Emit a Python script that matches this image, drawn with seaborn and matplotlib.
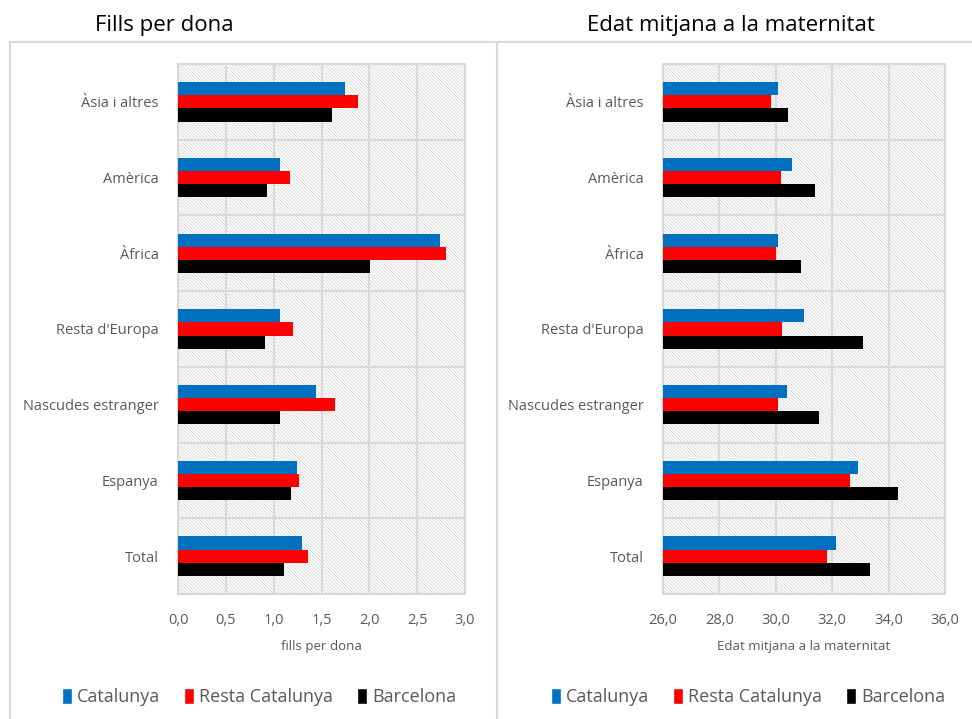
import pandas as pd
import matplotlib as mpl
import matplotlib.pyplot as plt
import seaborn as sns
from matplotlib.patches import Rectangle, Patch
from matplotlib.ticker import FuncFormatter, MultipleLocator

# Data
categories = ['Àsia i altres', 'Amèrica', 'Àfrica', "Resta d'Europa",
              'Nascudes estranger', 'Espanya', 'Total']
series = ['Catalunya', 'Resta Catalunya', 'Barcelona']
colors = ['#0070C0', '#FF0000', '#000000']

fills_catalunya = [1.75, 1.07, 2.74, 1.07, 1.44, 1.24, 1.30]
fills_resta = [1.88, 1.17, 2.80, 1.20, 1.64, 1.26, 1.36]
fills_barcelona = [1.61, 0.93, 2.01, 0.91, 1.07, 1.18, 1.11]

edat_catalunya = [30.09, 30.57, 30.07, 31.01, 30.40, 32.91, 32.13]
edat_resta = [29.83, 30.20, 30.00, 30.23, 30.07, 32.62, 31.81]
edat_barcelona = [30.43, 31.38, 30.88, 33.08, 31.52, 34.32, 33.35]


def long_df(a, b, c):
    rows = []
    for name, vals in zip(series, [a, b, c]):
        for cat, v in zip(categories, vals):
            rows.append({'cat': cat, 'serie': name, 'val': v})
    return pd.DataFrame(rows)


df_fills = long_df(fills_catalunya, fills_resta, fills_barcelona)
df_edat = long_df(edat_catalunya, edat_resta, edat_barcelona)

sns.set_style('white')
plt.rcParams['font.family'] = ['Open Sans', 'DejaVu Sans']
plt.rcParams['hatch.linewidth'] = 0.6

grid_col = '#d9d9d9'
text_col = '#595959'

fig = plt.figure(figsize=(9.72, 7.19), dpi=100)
ax1 = fig.add_axes([178 / 972, 1 - 594 / 719, 287 / 972, 530 / 719])
ax2 = fig.add_axes([663 / 972, 1 - 594 / 719, 282 / 972, 530 / 719])


def comma(x, pos):
    return f"{x:.1f}".replace('.', ',')


def style(ax, df, xlim, step, xlabel):
    sns.barplot(data=df, y='cat', x='val', hue='serie', hue_order=series,
                palette=colors, order=categories, orient='y', width=0.52,
                linewidth=0, saturation=1, legend=False, ax=ax, zorder=3)
    # hatched plot area background
    ax.add_patch(Rectangle((0, 0), 1, 1, transform=ax.transAxes,
                           facecolor='white', edgecolor='#d6d6d6',
                           hatch='\\' * 10, lw=0, zorder=0))
    ax.set_xlim(*xlim)
    ax.set_ylim(6.5, -0.5)
    ax.xaxis.set_major_locator(MultipleLocator(step))
    ax.xaxis.set_major_formatter(FuncFormatter(comma))
    ax.set_yticks(range(len(categories)))
    ax.set_yticks([i + 0.5 for i in range(-1, len(categories))], minor=True)
    ax.grid(axis='x', which='major', color=grid_col, lw=1.5, zorder=1)
    ax.grid(axis='y', which='minor', color=grid_col, lw=1.5, zorder=1)
    ax.grid(axis='y', which='major', visible=False)
    ax.set_axisbelow(True)
    for s in ax.spines.values():
        s.set_color(grid_col)
        s.set_linewidth(1.5)
    ax.tick_params(axis='both', which='both', length=0, labelsize=10.5,
                   labelcolor=text_col)
    ax.tick_params(axis='y', pad=14)
    ax.tick_params(axis='x', pad=14)
    ax.set_ylabel('')
    ax.set_xlabel(xlabel, fontsize=9.5, color=text_col, labelpad=8)


style(ax1, df_fills, (0, 3.0), 0.5, 'fills per dona')
style(ax2, df_edat, (26, 36), 2, 'Edat mitjana a la maternitat')

# chart boxes
for x0, x1 in [(10, 497), (497, 980)]:
    fig.patches.append(Rectangle((x0 / 972, -0.02), (x1 - x0) / 972,
                                 1 - 42 / 719 + 0.02,
                                 transform=fig.transFigure, fill=False,
                                 edgecolor=grid_col, lw=1.5))

fig.text(95 / 972, 1 - 25 / 719, 'Fills per dona', fontsize=16,
         ha='left', va='center', color='black')
fig.text(731 / 972, 1 - 25 / 719, 'Edat mitjana a la maternitat',
         fontsize=16, ha='center', va='center', color='black')

handles = [Patch(facecolor=c, label=s) for c, s in zip(colors, series)]
for cx in [259, 748]:
    fig.legend(handles=handles, loc='center', bbox_to_anchor=(cx / 972, 1 - 697 / 719),
               ncol=3, frameon=False, fontsize=13, labelcolor=text_col,
               handlelength=0.55, handleheight=1.0, handletextpad=0.3,
               columnspacing=1.3)

fig.savefig('out.png', dpi=100)
